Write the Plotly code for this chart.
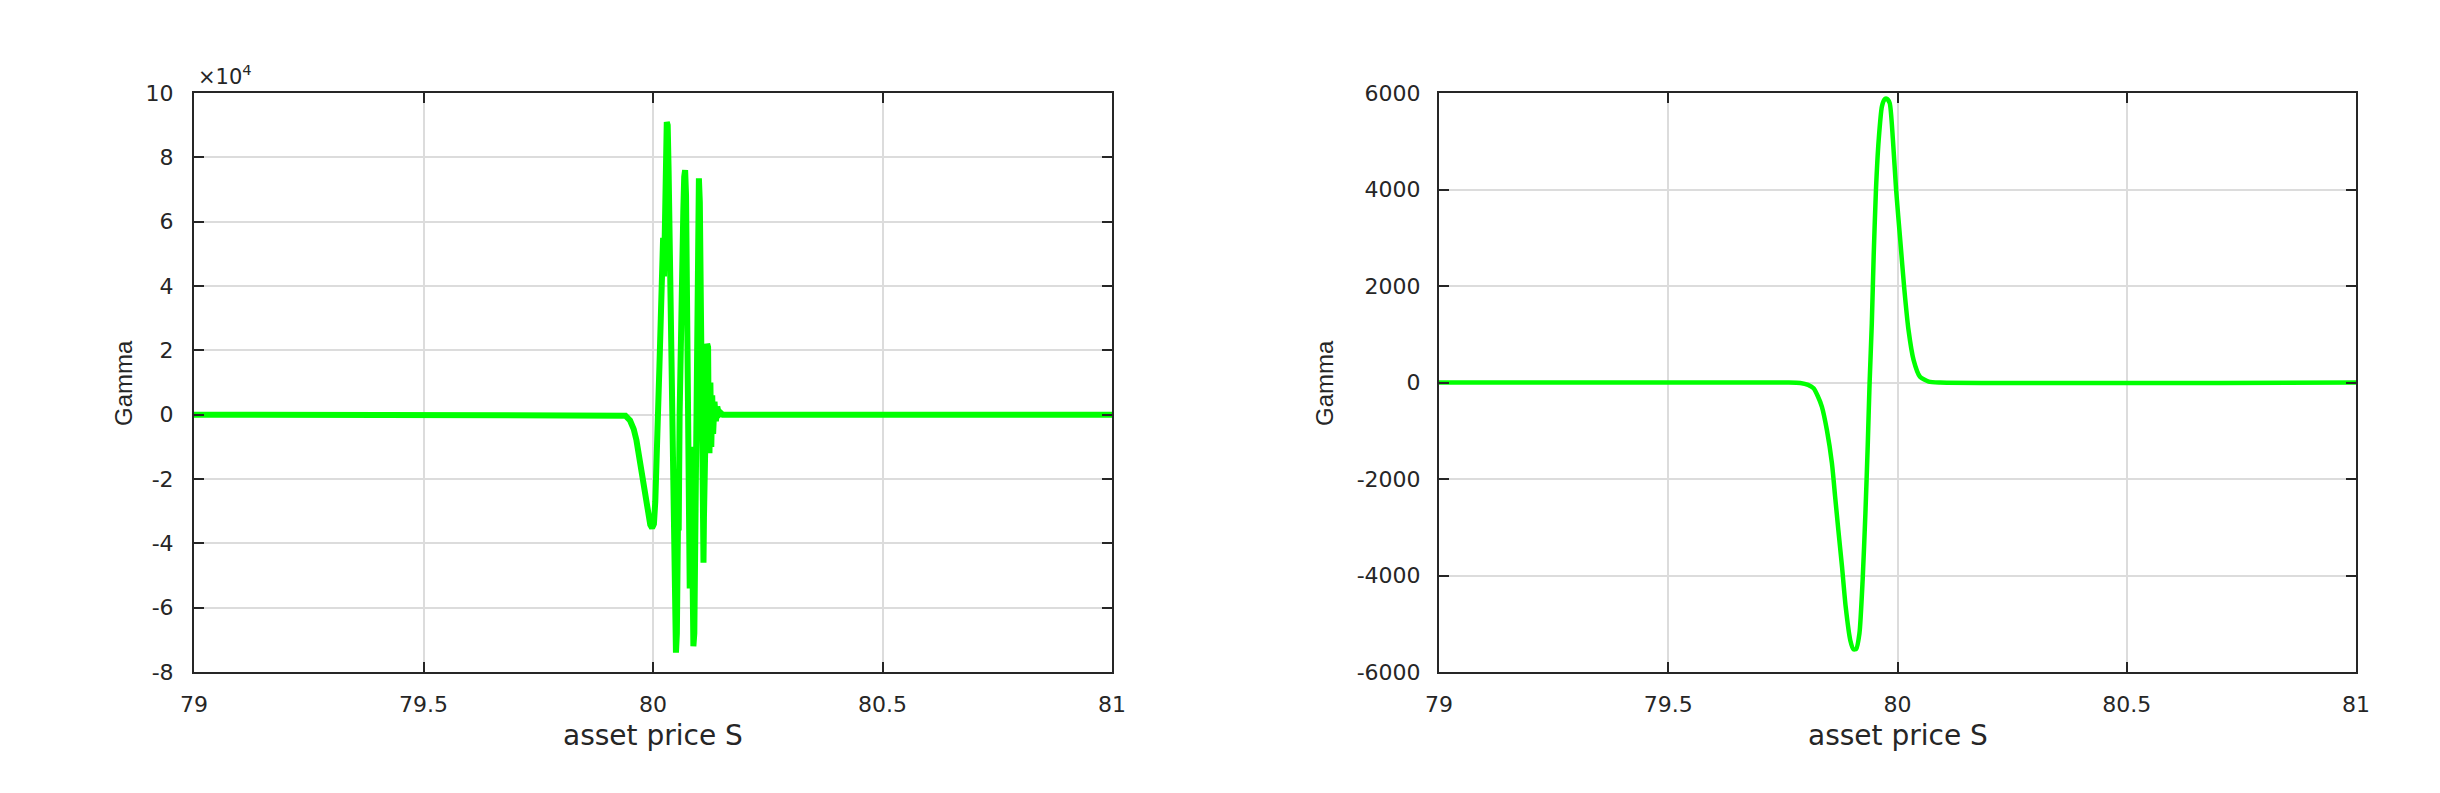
import plotly.graph_objects as go

W, H = 2440, 793
OFF = 8  # page body margin of the html wrapper

# ---------------- data ----------------
left_S = [79.000, 79.930, 79.940, 79.950, 79.958, 79.964, 79.970, 79.976, 79.982, 79.988,
          79.994, 79.998, 80.002, 80.005, 80.008, 80.011, 80.014, 80.017, 80.020, 80.022,
          80.024, 80.026, 80.028, 80.030, 80.032, 80.034, 80.036, 80.037, 80.039, 80.042,
          80.045, 80.047, 80.048, 80.050, 80.052, 80.054, 80.055, 80.056, 80.058, 80.061,
          80.064, 80.066, 80.068, 80.070, 80.072, 80.074, 80.076, 80.078, 80.080, 80.081,
          80.083, 80.084, 80.086, 80.088, 80.090, 80.092, 80.094, 80.096, 80.098, 80.100,
          80.102, 80.104, 80.105, 80.106, 80.108, 80.110, 80.111, 80.113, 80.114, 80.116,
          80.118, 80.120, 80.121, 80.123, 80.125, 80.127, 80.129, 80.131, 80.134, 80.137,
          80.140, 80.144, 80.148, 80.152, 81.000]
left_gamma = [0, 0, -300, -1800, -4500, -8000, -13000, -19000, -25500, -30500,
              -34200, -35200, -34000, -27000, -16000, -2000, 15000, 30000, 46000, 55000,
              43000, 62000, 82000, 91000, 90000, 76000, 54000, 58000, 35000, -5000,
              -45000, -60000, -52000, -74000, -68000, -54000, -25000, -36000, 0, 35000,
              58000, 63000, 74000, 76000, 68000, 45000, 15000, -20000, -54000, -40000,
              -10000, -30000, -60000, -72000, -68000, -35000, 5000, 40000, 65000, 73500,
              66000, 30000, -8000, 16000, -25000, -46000, -32000, -15000, -24000, 5000,
              22000, 21000, 2000, -12000, 10000, -10000, 6000, -6000, 4000, -2000,
              2500, 0, 500, 0, 0]

right_S = [79.000, 79.760, 79.788, 79.805, 79.817, 79.826, 79.835, 79.846, 79.857, 79.864,
           79.871, 79.879, 79.887, 79.897, 79.904, 79.910, 79.917, 79.924, 79.930, 79.935,
           79.939, 79.944, 79.948, 79.953, 79.959, 79.966, 79.972, 79.977, 79.983, 79.990,
           79.997, 80.006, 80.015, 80.024, 80.035, 80.049, 80.068, 80.093, 81.000]
right_gamma = [0, 0, -10, -50, -120, -280, -500, -985, -1675, -2370,
               -3060, -3820, -4650, -5340, -5530, -5520, -5200, -4090, -2710, -1330,
               -50, 1230, 2610, 3990, 5030, 5720, 5870, 5880, 5790, 5030,
               3990, 2950, 1920, 1090, 470, 120, 20, 0, 0]

x_ticks = [79, 79.5, 80, 80.5, 81]
x_tick_text = ["79", "79.5", "80", "80.5", "81"]
left_y_ticks = [-80000, -60000, -40000, -20000, 0, 20000, 40000, 60000, 80000, 100000]
left_y_text = ["-8", "-6", "-4", "-2", "0", "2", "4", "6", "8", "10"]
right_y_ticks = [-6000, -4000, -2000, 0, 2000, 4000, 6000]
right_y_text = ["-6000", "-4000", "-2000", "0", "2000", "4000", "6000"]

x_label = "asset price S"
y_label = "Gamma"
exponent_label = "×10<sup>4</sup>"

# ---------------- styling ----------------
GREEN = "#00ff00"
DARK = "#262626"
GRID = "#dcdcdc"
SANS = "DejaVu Sans, Liberation Sans, sans-serif"
TICK_FONT = dict(family=SANS, size=22, color=DARK)


def px(x):
    return (x - OFF) / W


def py(y):
    return 1 - (y - OFF) / H


fig = go.Figure()
fig.add_trace(go.Scatter(x=left_S, y=left_gamma, mode="lines",
                         line=dict(color=GREEN, width=6), xaxis="x", yaxis="y",
                         showlegend=False))
fig.add_trace(go.Scatter(x=right_S, y=right_gamma, mode="lines",
                         line=dict(color=GREEN, width=4.5, shape="spline", smoothing=0.6),
                         xaxis="x2", yaxis="y2", showlegend=False))

axis_common = dict(showline=True, linecolor=DARK, linewidth=2, mirror="ticks",
                   ticks="inside", ticklen=10, tickwidth=2, tickcolor=DARK,
                   showgrid=True, gridcolor=GRID, gridwidth=1.5, zeroline=False,
                   automargin=False, tickfont=TICK_FONT)

fig.update_layout(
    template="none",
    width=W, height=H,
    margin=dict(l=0, r=0, t=0, b=0, autoexpand=False),
    paper_bgcolor="white", plot_bgcolor="white",
    showlegend=False,
    xaxis=dict(domain=[px(194), px(1112)], range=[79, 81], tickmode="array",
               tickvals=x_ticks, ticktext=x_tick_text, anchor="y",
               ticklabelstandoff=12, **axis_common),
    yaxis=dict(domain=[py(672), py(93)], range=[-80000, 100000], tickmode="array",
               tickvals=left_y_ticks, ticktext=left_y_text, anchor="x",
               ticklabelstandoff=14, **axis_common),
    xaxis2=dict(domain=[px(1439), px(2356)], range=[79, 81], tickmode="array",
                tickvals=x_ticks, ticktext=x_tick_text, anchor="y2",
                ticklabelstandoff=12, **axis_common),
    yaxis2=dict(domain=[py(672), py(93)], range=[-6000, 6000], tickmode="array",
                tickvals=right_y_ticks, ticktext=right_y_text, anchor="x2",
                ticklabelstandoff=12, **axis_common),
)

label_font = dict(family=SANS, size=28, color=DARK)
gamma_font = dict(family="Liberation Sans Narrow, Liberation Sans, sans-serif",
                  size=24, color=DARK)

annotations = [
    dict(x=px(653), y=py(735), text=x_label, font=label_font),
    dict(x=px(1897.5), y=py(735), text=x_label, font=label_font),
    dict(x=px(123), y=py(383), text=y_label, textangle=-90, font=gamma_font),
    dict(x=px(1324), y=py(383), text=y_label, textangle=-90, font=gamma_font),
    dict(x=px(196), y=py(91), text=exponent_label, xanchor="left", yanchor="bottom",
         font=dict(family=SANS, size=21, color=DARK)),
]
for a in annotations:
    a.setdefault("xanchor", "center")
    a.setdefault("yanchor", "middle")
    a.update(xref="paper", yref="paper", showarrow=False)
fig.update_layout(annotations=annotations)

fig.write_html("out.html")
